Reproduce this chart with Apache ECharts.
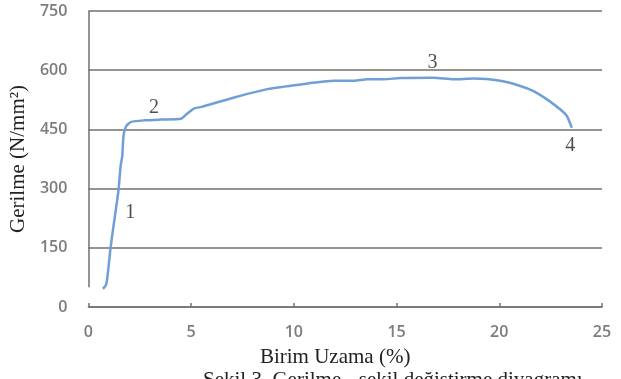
<!DOCTYPE html>
<html>
<head>
<meta charset="utf-8">
<script src="https://cdn.jsdelivr.net/npm/echarts@6/dist/echarts.min.js"></script>
<style>
  html, body { margin: 0; padding: 0; background: #fff; }
  #chart { width: 621px; height: 379px; }
</style>
</head>
<body>
<div id="chart"></div>
<script>
// gerilme - birim uzama egrisi
var strain = [0.71, 0.85, 0.91, 1.0, 1.07, 1.2, 1.36, 1.47, 1.57, 1.65, 1.71, 1.84, 2.09, 2.73, 3.54, 4.51, 4.76, 5.16, 5.49,
  7.1, 8.72, 10.34, 11.96, 12.93, 13.58, 14.38, 15.19, 16.8, 17.78, 18.75, 20.05, 21.02, 21.67, 22.32, 22.96, 23.29, 23.53];
var stress = [46, 55, 69, 110, 145, 196, 255, 297, 357, 382, 433, 458, 469, 473, 475, 477, 488, 503, 507,
  531, 552, 564, 573, 573, 577, 577, 580, 581, 577, 579, 573, 560, 547, 526, 501, 484, 454];

var noteText = ['1', '2', '3', '4'];
var noteX = [2.04, 3.2, 16.75, 23.45];
var noteY = [239, 506, 620, 409];

var xTicks = [0, 5, 10, 15, 20, 25];
var yTicks = [0, 150, 300, 450, 600, 750];

var data = [];
for (var i = 0; i < strain.length; i++) {
  data.push([strain[i], stress[i]]);
}
var notes = [];
for (var j = 0; j < noteText.length; j++) {
  notes.push({ value: [noteX[j], noteY[j]], name: noteText[j] });
}

var myChart = echarts.init(document.getElementById('chart'));
var gridColor = '#75706b';

var option = {
  backgroundColor: '#fff',
  animation: false,
  title: {
    text: 'Şekil 3. Gerilme - şekil değiştirme diyagramı',
    left: 203,
    top: 370,
    padding: 0,
    textStyle: { fontFamily: 'Liberation Serif', fontSize: 21, fontWeight: 'normal', color: '#222' }
  },
  grid: { left: 87, right: 19, top: 11, bottom: 72 },
  xAxis: {
    type: 'value',
    min: xTicks[0],
    max: xTicks[xTicks.length - 1],
    interval: 5,
    name: 'Birim Uzama (%)',
    nameLocation: 'middle',
    nameGap: 40,
    nameTextStyle: { fontFamily: 'Liberation Serif', fontSize: 21, color: '#222', padding: [0, 20, 0, 0] },
    axisLine: { show: true, lineStyle: { color: gridColor, width: 1.5 } },
    axisTick: { show: true, inside: true, length: 4, lineStyle: { color: gridColor, width: 1.5 } },
    axisLabel: { color: '#7c7c7c', fontFamily: 'Open Sans', fontWeight: 600, fontSize: 16, margin: 17 },
    splitLine: { show: false }
  },
  yAxis: {
    type: 'value',
    min: yTicks[0],
    max: yTicks[yTicks.length - 1],
    interval: 150,
    name: 'Gerilme (N/mm²)',
    nameLocation: 'middle',
    nameGap: 55,
    nameTextStyle: { fontFamily: 'Liberation Serif', fontSize: 21, color: '#222' },
    axisLine: { show: false },
    axisTick: { show: false },
    axisLabel: { color: '#7c7c7c', fontFamily: 'Open Sans', fontWeight: 600, fontSize: 16, margin: 21 },
    splitLine: {
      show: true,
      lineStyle: { color: gridColor, width: 1.5 }
    }
  },
  series: [{
    type: 'line',
    data: data,
    showSymbol: false,
    smooth: 0.2,
    lineStyle: { color: '#6f9fd6', width: 2.5 },
    markLine: {
      silent: true,
      symbol: 'none',
      label: { show: false },
      lineStyle: { color: gridColor, width: 1.5, type: 'solid' },
      data: [[{ coord: [0, 50] }, { coord: [0, 750] }]]
    }
  }, {
    type: 'scatter',
    data: notes,
    symbolSize: 1,
    itemStyle: { color: 'rgba(0,0,0,0)' },
    silent: true,
    label: {
      show: true,
      position: 'inside',
      formatter: '{b}',
      fontFamily: 'Liberation Serif',
      fontSize: 20,
      color: '#222'
    }
  }]
};

myChart.setOption(option);
window.onresize = function () {
  myChart.resize();
};
</script>
</body>
</html>
